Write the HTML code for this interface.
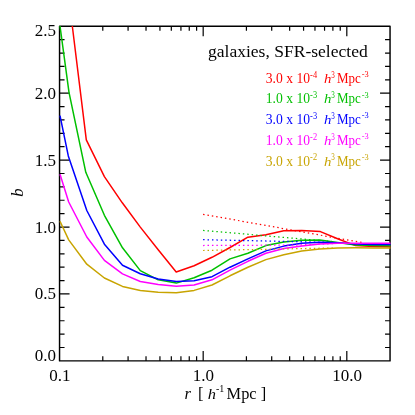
<!DOCTYPE html>
<html><head><meta charset="utf-8"><title>bias</title>
<style>
html,body{margin:0;padding:0;background:#fff;}
body{width:415px;height:415px;overflow:hidden;}
svg{display:block;}
text{font-family:"Liberation Serif",serif;opacity:0.99;}
</style></head><body>
<svg width="415" height="415" viewBox="0 0 415 415">
<rect width="415" height="415" fill="#fff"/>
<defs><clipPath id="c"><rect x="58.8" y="25.5" width="332" height="336"/></clipPath></defs>

<g stroke="#000" stroke-width="1.45" fill="none" stroke-linejoin="round">
<rect x="59.55" y="26.25" width="330.5" height="334.63"/>
</g>
<g stroke="#000" stroke-width="1.2" fill="none">
<path d="M102.79 360.88v-4.6M102.79 26.25v4.6M128.08 360.88v-4.6M128.08 26.25v4.6M146.02 360.88v-4.6M146.02 26.25v4.6M159.94 360.88v-4.6M159.94 26.25v4.6M171.32 360.88v-4.6M171.32 26.25v4.6M180.93 360.88v-4.6M180.93 26.25v4.6M189.26 360.88v-4.6M189.26 26.25v4.6M196.61 360.88v-4.6M196.61 26.25v4.6M203.18 360.88v-10M203.18 26.25v10M246.42 360.88v-4.6M246.42 26.25v4.6M271.71 360.88v-4.6M271.71 26.25v4.6M289.65 360.88v-4.6M289.65 26.25v4.6M303.57 360.88v-4.6M303.57 26.25v4.6M314.95 360.88v-4.6M314.95 26.25v4.6M324.56 360.88v-4.6M324.56 26.25v4.6M332.89 360.88v-4.6M332.89 26.25v4.6M340.24 360.88v-4.6M340.24 26.25v4.6M346.81 360.88v-10M346.81 26.25v10M59.55 347.50h5M390.05 347.50h-5M59.55 334.11h5M390.05 334.11h-5M59.55 320.73h5M390.05 320.73h-5M59.55 307.34h5M390.05 307.34h-5M59.55 293.95h10M390.05 293.95h-10M59.55 280.57h5M390.05 280.57h-5M59.55 267.19h5M390.05 267.19h-5M59.55 253.80h5M390.05 253.80h-5M59.55 240.41h5M390.05 240.41h-5M59.55 227.03h10M390.05 227.03h-10M59.55 213.64h5M390.05 213.64h-5M59.55 200.26h5M390.05 200.26h-5M59.55 186.88h5M390.05 186.88h-5M59.55 173.49h5M390.05 173.49h-5M59.55 160.11h10M390.05 160.11h-10M59.55 146.72h5M390.05 146.72h-5M59.55 133.34h5M390.05 133.34h-5M59.55 119.95h5M390.05 119.95h-5M59.55 106.57h5M390.05 106.57h-5M59.55 93.18h10M390.05 93.18h-10M59.55 79.80h5M390.05 79.80h-5M59.55 66.41h5M390.05 66.41h-5M59.55 53.03h5M390.05 53.03h-5M59.55 39.64h5M390.05 39.64h-5"/>
</g>
<g clip-path="url(#c)" fill="none" stroke-width="1.5" stroke-linejoin="round">
<polyline stroke="#ff0000" points="72.3,26.0 86.3,139.8 104.4,176.6 122.3,202.8 140.3,227.1 158.2,249.8 176.2,272.0 194.1,265.8 212.0,257.3 230.0,247.5 247.9,237.2 265.9,234.8 283.8,230.7 301.7,230.5 320.4,231.6 337.6,238.7 355.6,245.6 373.5,246.4 390.5,246.8"/>
<polyline stroke="#ff0000" stroke-width="1.25" stroke-dasharray="1.45 2.98" points="203.1,214.3 364.5,243.0"/>
<polyline stroke="#00c000" points="60.0,26.0 69.0,92.3 85.8,172.3 104.4,215.3 122.5,247.8 140.3,270.6 158.2,279.8 176.3,283.1 194.1,277.8 212.0,270.2 230.0,258.9 247.9,253.3 265.9,245.6 283.8,242.0 301.7,240.2 319.7,239.9 337.6,242.5 355.6,245.0 373.5,245.5 390.5,245.8"/>
<polyline stroke="#00c000" stroke-width="1.25" stroke-dasharray="1.45 2.98" points="203.1,230.4 295.0,238.4 333.0,241.6"/>
<polyline stroke="#0000ff" points="60.0,115.7 68.3,155.9 86.8,210.5 104.4,244.2 122.5,265.2 140.3,273.7 158.2,279.0 176.3,281.4 194.1,280.7 212.0,276.7 230.0,267.2 247.9,258.9 265.9,250.9 283.8,246.1 301.7,243.2 319.7,242.2 337.6,242.8 355.6,244.0 373.5,244.4 390.5,244.6"/>
<polyline stroke="#0000ff" stroke-width="1.25" stroke-dasharray="1.45 2.98" points="203.1,239.7 295.0,241.6 333.0,242.6"/>
<polyline stroke="#ff00ff" points="60.0,174.2 68.7,202.0 86.8,237.0 104.4,260.4 122.5,273.9 140.3,281.5 158.2,284.6 176.3,286.3 194.1,285.0 212.0,279.8 230.0,270.2 247.9,261.3 265.9,253.3 283.8,248.5 301.7,246.1 319.7,243.9 337.6,243.2 355.6,243.3 373.5,243.3 390.5,243.3"/>
<polyline stroke="#ff00ff" stroke-width="1.25" stroke-dasharray="1.45 2.98" points="203.1,245.5 295.0,245.1 333.0,243.6"/>
<polyline stroke="#c8a400" points="60.0,221.3 68.7,239.9 86.8,264.2 104.4,278.0 122.5,286.4 140.3,290.4 158.2,292.3 176.3,292.8 194.1,290.4 212.0,285.0 230.0,275.8 247.9,267.3 265.9,259.6 283.8,254.8 301.7,251.1 319.7,249.0 337.6,248.0 355.6,247.8 373.5,247.9 390.5,248.0"/>
<polyline stroke="#c8a400" stroke-width="1.25" stroke-dasharray="1.45 2.98" points="203.1,250.5 295.0,248.7 333.0,248.0"/>
</g>
<g style="will-change:transform">
<text transform="translate(56.00,36.45)" font-size="17" text-anchor="end">2.5</text>
<text transform="translate(56.00,98.68)" font-size="17" text-anchor="end">2.0</text>
<text transform="translate(56.00,165.61)" font-size="17" text-anchor="end">1.5</text>
<text transform="translate(56.00,232.53)" font-size="17" text-anchor="end">1.0</text>
<text transform="translate(56.00,299.45)" font-size="17" text-anchor="end">0.5</text>
<text transform="translate(56.00,361.45)" font-size="17" text-anchor="end">0.0</text>
<text transform="translate(59.75,381.00)" font-size="17" text-anchor="middle">0.1</text>
<text transform="translate(203.38,381.00)" font-size="17" text-anchor="middle">1.0</text>
<text transform="translate(347.01,381.00)" font-size="17" text-anchor="middle">10.0</text>
<text transform="translate(22.60,196.80) rotate(-90)" font-size="16.8" font-style="italic">b</text>
<text transform="translate(184.60,398.70)" font-size="16.5" font-style="italic">r</text>
<text transform="translate(198.00,399.20)" font-size="16.5">[</text>
<text transform="translate(207.80,398.80) scale(1.0,0.93)" font-size="16.5" font-style="italic">h</text>
<text transform="translate(216.00,391.50)" font-size="10.0">-1</text>
<text transform="translate(226.60,398.90)" font-size="16.35">Mpc</text>
<text transform="translate(260.80,399.40)" font-size="16.5">]</text>
<text transform="translate(208.00,57.30)" font-size="17.55">galaxies, SFR-selected</text>
<text transform="translate(265.80,82.80) scale(1.0,1.09)" font-size="13.6" fill="#ff0000">3.0 x 10</text>
<text transform="translate(310.10,77.70) scale(1.0,1.15)" font-size="8.4" fill="#ff0000">-4</text>
<text transform="translate(324.00,82.80) scale(1.0,0.9)" font-size="14.8" font-style="italic" fill="#ff0000">h</text>
<text transform="translate(331.20,77.50) scale(0.85,1.14)" font-size="8.4" fill="#ff0000">3</text>
<text transform="translate(337.00,82.80) scale(1.0,1.14)" font-size="13.0" fill="#ff0000">Mpc</text>
<text transform="translate(361.70,76.90) scale(1.0,1.09)" font-size="8.4" fill="#ff0000">-3</text>
<text transform="translate(265.80,103.45) scale(1.0,1.09)" font-size="13.6" fill="#00c000">1.0 x 10</text>
<text transform="translate(310.10,98.35) scale(1.0,1.15)" font-size="8.4" fill="#00c000">-3</text>
<text transform="translate(324.00,103.45) scale(1.0,0.9)" font-size="14.8" font-style="italic" fill="#00c000">h</text>
<text transform="translate(331.20,98.15) scale(0.85,1.14)" font-size="8.4" fill="#00c000">3</text>
<text transform="translate(337.00,103.45) scale(1.0,1.14)" font-size="13.0" fill="#00c000">Mpc</text>
<text transform="translate(361.70,97.55) scale(1.0,1.09)" font-size="8.4" fill="#00c000">-3</text>
<text transform="translate(265.80,124.10) scale(1.0,1.09)" font-size="13.6" fill="#0000ff">3.0 x 10</text>
<text transform="translate(310.10,119.00) scale(1.0,1.15)" font-size="8.4" fill="#0000ff">-3</text>
<text transform="translate(324.00,124.10) scale(1.0,0.9)" font-size="14.8" font-style="italic" fill="#0000ff">h</text>
<text transform="translate(331.20,118.80) scale(0.85,1.14)" font-size="8.4" fill="#0000ff">3</text>
<text transform="translate(337.00,124.10) scale(1.0,1.14)" font-size="13.0" fill="#0000ff">Mpc</text>
<text transform="translate(361.70,118.20) scale(1.0,1.09)" font-size="8.4" fill="#0000ff">-3</text>
<text transform="translate(265.80,144.80) scale(1.0,1.09)" font-size="13.6" fill="#ff00ff">1.0 x 10</text>
<text transform="translate(310.10,139.70) scale(1.0,1.15)" font-size="8.4" fill="#ff00ff">-2</text>
<text transform="translate(324.00,144.80) scale(1.0,0.9)" font-size="14.8" font-style="italic" fill="#ff00ff">h</text>
<text transform="translate(331.20,139.50) scale(0.85,1.14)" font-size="8.4" fill="#ff00ff">3</text>
<text transform="translate(337.00,144.80) scale(1.0,1.14)" font-size="13.0" fill="#ff00ff">Mpc</text>
<text transform="translate(361.70,138.90) scale(1.0,1.09)" font-size="8.4" fill="#ff00ff">-3</text>
<text transform="translate(265.80,165.50) scale(1.0,1.09)" font-size="13.6" fill="#c8a400">3.0 x 10</text>
<text transform="translate(310.10,160.40) scale(1.0,1.15)" font-size="8.4" fill="#c8a400">-2</text>
<text transform="translate(324.00,165.50) scale(1.0,0.9)" font-size="14.8" font-style="italic" fill="#c8a400">h</text>
<text transform="translate(331.20,160.20) scale(0.85,1.14)" font-size="8.4" fill="#c8a400">3</text>
<text transform="translate(337.00,165.50) scale(1.0,1.14)" font-size="13.0" fill="#c8a400">Mpc</text>
<text transform="translate(361.70,159.60) scale(1.0,1.09)" font-size="8.4" fill="#c8a400">-3</text>
</g>
</svg></body></html>
